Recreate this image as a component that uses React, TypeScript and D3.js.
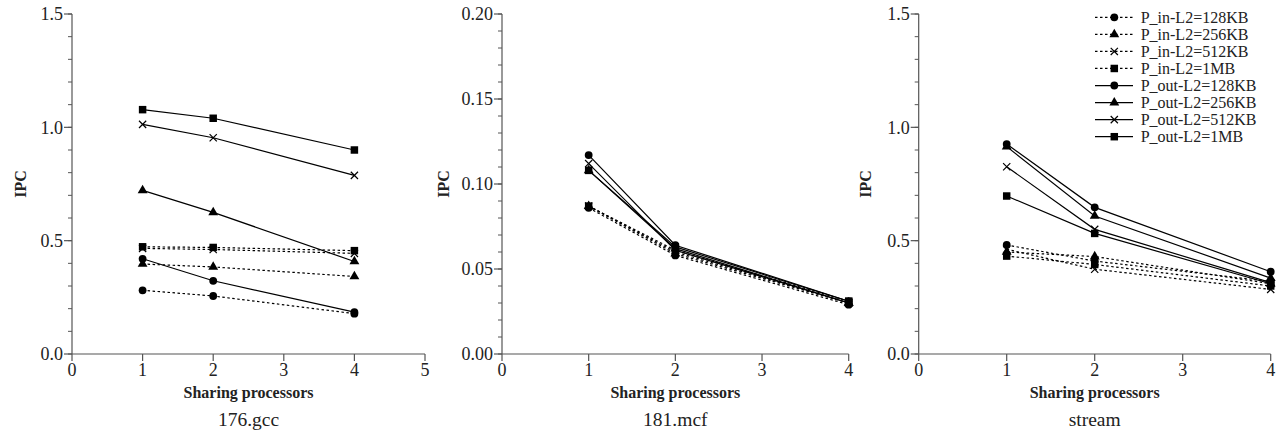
import React from 'react'
import * as d3 from 'd3'

// sharing processors on the x axis
const xs = [1, 2, 4]

const seriesNames = [
  'P_in-L2=128KB', 'P_in-L2=256KB', 'P_in-L2=512KB', 'P_in-L2=1MB',
  'P_out-L2=128KB', 'P_out-L2=256KB', 'P_out-L2=512KB', 'P_out-L2=1MB',
]
const seriesMarkers = ['circle', 'triangle', 'cross', 'square', 'circle', 'triangle', 'cross', 'square']
const seriesDotted = [true, true, true, true, false, false, false, false]

// IPC, one row per series
const gccValues = [
  [0.281, 0.256, 0.178],
  [0.397, 0.384, 0.342],
  [0.466, 0.461, 0.444],
  [0.473, 0.470, 0.456],
  [0.420, 0.323, 0.185],
  [0.722, 0.625, 0.408],
  [1.013, 0.954, 0.788],
  [1.078, 1.040, 0.900],
]
const mcfValues = [
  [0.086, 0.058, 0.029],
  [0.087, 0.059, 0.030],
  [0.087, 0.060, 0.030],
  [0.087, 0.061, 0.031],
  [0.117, 0.064, 0.031],
  [0.108, 0.062, 0.030],
  [0.112, 0.061, 0.030],
  [0.108, 0.063, 0.031],
]
const streamValues = [
  [0.481, 0.410, 0.320],
  [0.450, 0.430, 0.310],
  [0.462, 0.374, 0.285],
  [0.432, 0.395, 0.300],
  [0.926, 0.647, 0.363],
  [0.915, 0.609, 0.335],
  [0.826, 0.550, 0.315],
  [0.697, 0.532, 0.310],
]

const gccYTicks = [0.0, 0.5, 1.0, 1.5]
const mcfYTicks = [0.0, 0.05, 0.1, 0.15, 0.2]
const streamYTicks = [0.0, 0.5, 1.0, 1.5]

const panels = [
  { name: '176.gcc', values: gccValues, yTicks: gccYTicks, yMinor: 0.1, fmt: '.1f', xMax: 5, left: 72, right: 425, titleX: 20 },
  { name: '181.mcf', values: mcfValues, yTicks: mcfYTicks, yMinor: 0.01, fmt: '.2f', xMax: 4, left: 502, right: 848.7, titleX: 443 },
  { name: 'stream', values: streamValues, yTicks: streamYTicks, yMinor: 0.1, fmt: '.1f', xMax: 4, left: 918.7, right: 1270.7, titleX: 865 },
]

const W = 1281
const H = 433
const top = 14
const bottom = 354
const font = 'Liberation Serif, Times New Roman, serif'
const axisColor = '#555'

const crossPath = (s: number) => `M${-s},${-s}L${s},${s}M${-s},${s}L${s},${-s}`

const Marker = ({ kind, x, y }: { kind: string, x: number, y: number }) => {
  if (kind === 'cross') {
    return <path d={crossPath(3.6)} transform={`translate(${x},${y})`} stroke="#000" strokeWidth={1.2} fill="none" />
  }
  const type = kind === 'circle' ? d3.symbolCircle : kind === 'square' ? d3.symbolSquare : d3.symbolTriangle
  const size = kind === 'circle' ? 48 : kind === 'square' ? 56 : 42
  return <path d={d3.symbol().type(type).size(size)() || ''} transform={`translate(${x},${y})`} fill="#000" />
}

const Panel = ({ p }: { p: typeof panels[0] }) => {
  const yMax = p.yTicks[p.yTicks.length - 1]
  const x = d3.scaleLinear().domain([0, p.xMax]).range([p.left, p.right])
  const y = d3.scaleLinear().domain([0, yMax]).range([bottom, top])
  const fmt = d3.format(p.fmt)
  const minor = d3.range(0, yMax + p.yMinor / 2, p.yMinor)
  const xTicks = d3.range(0, p.xMax + 1)
  const line = d3.line<number>().x((d, i) => x(xs[i])).y(d => y(d))
  const cx = (p.left + p.right) / 2

  return (
    <g>
      {/* y axis */}
      <line x1={p.left} x2={p.left} y1={top} y2={bottom} stroke={axisColor} strokeWidth={1.2} />
      {minor.map((t, i) => (
        <line key={'m' + i} x1={p.left - 4} x2={p.left} y1={y(t)} y2={y(t)} stroke={axisColor} strokeWidth={1} />
      ))}
      {p.yTicks.map(t => (
        <g key={'y' + t}>
          <line x1={p.left - 8} x2={p.left} y1={y(t)} y2={y(t)} stroke={axisColor} strokeWidth={1.2} />
          <text x={p.left - 9} y={y(t)} dy="0.35em" textAnchor="end" fontSize={18} fill="#222">{fmt(t)}</text>
        </g>
      ))}
      {/* x axis */}
      <line x1={p.left} x2={p.right} y1={bottom} y2={bottom} stroke={axisColor} strokeWidth={1.2} />
      {xTicks.map(t => (
        <g key={'x' + t}>
          <line x1={x(t)} x2={x(t)} y1={bottom} y2={bottom + 7} stroke={axisColor} strokeWidth={1.2} />
          <text x={x(t)} y={bottom + 16} dy="0.35em" textAnchor="middle" fontSize={18} fill="#222">{t}</text>
        </g>
      ))}
      <text x={cx} y={398} textAnchor="middle" fontSize={16} fontWeight="bold" fill="#222">Sharing processors</text>
      <text x={cx} y={426} textAnchor="middle" fontSize={19.5} fill="#222">{p.name}</text>
      <text transform={`translate(${p.titleX},${(top + bottom) / 2}) rotate(-90)`} dy="0.35em" textAnchor="middle" fontSize={16} fontWeight="bold" fill="#222">IPC</text>
      {/* series */}
      {p.values.map((vals, s) => (
        <g key={'s' + s}>
          <path d={line(vals) || ''} fill="none" stroke="#000" strokeWidth={1.2}
            strokeDasharray={seriesDotted[s] ? '2.5,2.5' : undefined} />
          {vals.map((v, i) => <Marker key={i} kind={seriesMarkers[s]} x={x(xs[i])} y={y(v)} />)}
        </g>
      ))}
    </g>
  )
}

const Legend = () => {
  const ly = d3.scalePoint().domain(seriesNames).range([17.3, 136.7])
  return (
    <g>
      {seriesNames.map((n, i) => (
        <g key={n}>
          <line x1={1095} x2={1133} y1={ly(n)} y2={ly(n)} stroke="#000" strokeWidth={1.2}
            strokeDasharray={seriesDotted[i] ? '2.5,2.5' : undefined} />
          <Marker kind={seriesMarkers[i]} x={1114.3} y={ly(n) || 0} />
          <text x={1140.7} y={ly(n)} dy="0.35em" fontSize={16} fill="#222">{n}</text>
        </g>
      ))}
    </g>
  )
}

export default function App() {
  return (
    <svg width={W} height={H} style={{ position: 'absolute', left: 0, top: 0, background: '#fff' }} fontFamily={font}>
      {panels.map(p => <Panel key={p.name} p={p} />)}
      <Legend />
    </svg>
  )
}
